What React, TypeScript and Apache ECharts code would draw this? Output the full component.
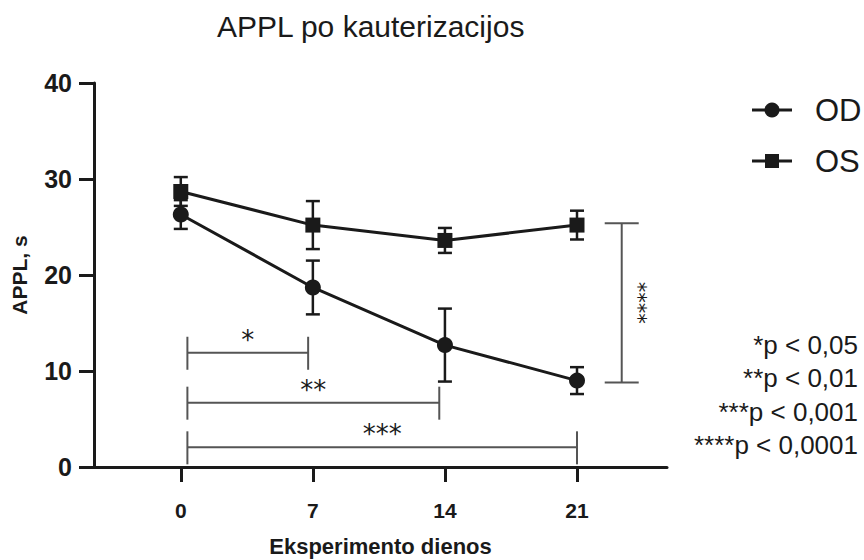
import React, { useEffect, useRef } from "react";
import * as echarts from "echarts";

// Days after cauterization and the measured APPL (s), mean ± error
const days = [0, 7, 14, 21];
const odMean = [26.3, 18.7, 12.7, 9.0];
const odErr = [1.5, 2.8, 3.8, 1.4];
const osMean = [28.7, 25.2, 23.6, 25.2];
const osErr = [1.5, 2.5, 1.3, 1.5];

// Axis ticks
const xTicks = [0, 7, 14, 21];
const yTicks = [0, 10, 20, 30, 40];

// Significance brackets between days (OD series)
const pairStart = [0.35, 0.35, 0.35];
const pairEnd = [6.75, 13.7, 21];
const pairLevel = [11.9, 6.7, 2.05];
const pairStars = ["*", "**", "***"];

// OD vs OS bracket on day 21
const sideX = [23.37];
const sideFrom = [8.8];
const sideTo = [25.4];
const sideStars = ["****"];

// p-value key
const pKey = ["*p < 0,05", "**p < 0,01", "***p < 0,001", "****p < 0,0001"];

const INK = "#1a1a1a";
const BRACKET = "#555555";
const FONT = "'Liberation Sans', Arial, Helvetica, sans-serif";

function errorBarSeries(mean: number[], err: number[]) {
  return {
    type: "custom",
    silent: true,
    z: 2,
    encode: { x: 0, y: 1 },
    data: days.map((d, i) => [d, mean[i], err[i]]),
    renderItem: (_p: any, api: any) => {
      const x = api.value(0);
      const m = api.value(1);
      const e = api.value(2);
      const top = api.coord([x, m + e]);
      const bot = api.coord([x, m - e]);
      const hw = 7;
      const style = { stroke: INK, lineWidth: 2.5 };
      return {
        type: "group",
        children: [
          { type: "line", shape: { x1: top[0], y1: top[1], x2: bot[0], y2: bot[1] }, style },
          { type: "line", shape: { x1: top[0] - hw, y1: top[1], x2: top[0] + hw, y2: top[1] }, style },
          { type: "line", shape: { x1: bot[0] - hw, y1: bot[1], x2: bot[0] + hw, y2: bot[1] }, style },
        ],
      };
    },
  };
}

export default function App() {
  const ref = useRef<HTMLDivElement>(null);

  useEffect(() => {
    document.body.style.margin = "0";
    const chart = echarts.init(ref.current!, null, { renderer: "svg" });

    const option: any = {
      animation: false,
      textStyle: { fontFamily: FONT },
      title: {
        text: "APPL po kauterizacijos",
        left: 212,
        top: 6,
        textStyle: { fontSize: 30, fontWeight: "normal", color: INK, fontFamily: FONT },
      },
      grid: { left: 94, right: 197, top: 83, bottom: 93, containLabel: false, outerBoundsMode: "none" },
      xAxis: {
        type: "value",
        min: -4.6,
        max: 25.77,
        name: "Eksperimento dienos",
        nameLocation: "middle",
        nameGap: 68,
        nameTextStyle: { fontSize: 22, fontWeight: "bold", color: INK, fontFamily: FONT },
        axisLine: { onZero: false, lineStyle: { width: 3, color: INK } },
        axisTick: { customValues: xTicks, length: 15, lineStyle: { width: 3, color: INK } },
        axisLabel: {
          customValues: xTicks,
          fontSize: 21,
          fontWeight: "bold",
          color: INK,
          margin: 33,
          fontFamily: FONT,
        },
        splitLine: { show: false },
      },
      yAxis: {
        type: "value",
        min: 0,
        max: 40,
        interval: 10,
        name: "APPL, s",
        nameLocation: "middle",
        nameGap: 64,
        nameTextStyle: { fontSize: 21, fontWeight: "bold", color: INK, fontFamily: FONT },
        axisLine: { show: true, onZero: false, lineStyle: { width: 3, color: INK } },
        axisTick: { show: true, customValues: yTicks, length: 15, lineStyle: { width: 3, color: INK } },
        axisLabel: {
          customValues: yTicks,
          fontSize: 25,
          fontWeight: "bold",
          color: INK,
          margin: 22,
          fontFamily: FONT,
        },
        splitLine: { show: false },
      },
      series: [
        errorBarSeries(osMean, osErr),
        errorBarSeries(odMean, odErr),
        {
          name: "OS",
          type: "line",
          z: 3,
          data: days.map((d, i) => [d, osMean[i]]),
          symbol: "rect",
          symbolSize: 15,
          lineStyle: { width: 3, color: INK },
          itemStyle: { color: INK },
        },
        {
          name: "OD",
          type: "line",
          z: 3,
          data: days.map((d, i) => [d, odMean[i]]),
          symbol: "circle",
          symbolSize: 16,
          lineStyle: { width: 3, color: INK },
          itemStyle: { color: INK },
        },
        {
          // horizontal comparison brackets with stars
          type: "custom",
          silent: true,
          z: 1,
          encode: { x: [0, 1], y: 2 },
          data: pairStart.map((s, i) => [s, pairEnd[i], pairLevel[i], i]),
          renderItem: (_p: any, api: any) => {
            const a = api.coord([api.value(0), api.value(2)]);
            const b = api.coord([api.value(1), api.value(2)]);
            const base = api.coord([0, 0])[1];
            const idx = api.value(3);
            const cap = 16;
            const low = Math.min(a[1] + cap + 1, base);
            const style = { stroke: BRACKET, lineWidth: 2 };
            return {
              type: "group",
              children: [
                { type: "line", shape: { x1: a[0], y1: a[1], x2: b[0], y2: b[1] }, style },
                { type: "line", shape: { x1: a[0], y1: a[1] - cap, x2: a[0], y2: low }, style },
                { type: "line", shape: { x1: b[0], y1: b[1] - cap, x2: b[0], y2: low }, style },
                {
                  type: "text",
                  style: {
                    text: pairStars[idx],
                    x: (a[0] + b[0]) / 2,
                    y: a[1] - 13,
                    align: "center",
                    verticalAlign: "middle",
                    fontSize: 26,
                    fontFamily: "'DejaVu Sans', sans-serif",
                    fill: INK,
                  },
                },
              ],
            };
          },
        },
        {
          // vertical OD vs OS bracket on the last day
          type: "custom",
          silent: true,
          z: 1,
          encode: { x: 0, y: [1, 2] },
          data: sideX.map((x, i) => [x, sideFrom[i], sideTo[i], i]),
          renderItem: (_p: any, api: any) => {
            const lo = api.coord([api.value(0), api.value(1)]);
            const hi = api.coord([api.value(0), api.value(2)]);
            const idx = api.value(3);
            const cap = 17;
            const style = { stroke: BRACKET, lineWidth: 2 };
            return {
              type: "group",
              children: [
                { type: "line", shape: { x1: lo[0], y1: lo[1], x2: hi[0], y2: hi[1] }, style },
                { type: "line", shape: { x1: lo[0] - cap, y1: lo[1], x2: lo[0] + cap, y2: lo[1] }, style },
                { type: "line", shape: { x1: hi[0] - cap, y1: hi[1], x2: hi[0] + cap, y2: hi[1] }, style },
                {
                  type: "text",
                  x: lo[0] + 16,
                  y: (lo[1] + hi[1]) / 2,
                  rotation: -Math.PI / 2,
                  style: {
                    text: sideStars[idx],
                    x: 0,
                    y: 0,
                    align: "center",
                    verticalAlign: "middle",
                    fontSize: 21,
                    fontFamily: "'DejaVu Sans', sans-serif",
                    fill: INK,
                  },
                },
              ],
            };
          },
        },
      ],
      graphic: [
        // series key
        { type: "line", shape: { x1: 752, y1: 110, x2: 792, y2: 110 }, style: { stroke: INK, lineWidth: 3 } },
        { type: "circle", shape: { cx: 772, cy: 110, r: 7.5 }, style: { fill: INK } },
        {
          type: "text",
          x: 815,
          y: 110,
          style: { text: "OD", fontSize: 31, fontFamily: FONT, fill: INK, verticalAlign: "middle" },
        },
        { type: "line", shape: { x1: 752, y1: 161, x2: 792, y2: 161 }, style: { stroke: INK, lineWidth: 3 } },
        { type: "rect", shape: { x: 765, y: 154, width: 14, height: 14 }, style: { fill: INK } },
        {
          type: "text",
          x: 815,
          y: 161,
          style: { text: "OS", fontSize: 31, fontFamily: FONT, fill: INK, verticalAlign: "middle" },
        },
        // p-value key
        ...pKey.map((t, i) => ({
          type: "text",
          x: 858,
          y: 345 + i * 33.3,
          style: {
            text: t,
            fontSize: 26,
            fontFamily: FONT,
            fill: INK,
            align: "right",
            verticalAlign: "middle",
          },
        })),
      ],
    };

    chart.setOption(option);
    return () => chart.dispose();
  }, []);

  return <div ref={ref} style={{ width: 864, height: 560 }} />;
}
